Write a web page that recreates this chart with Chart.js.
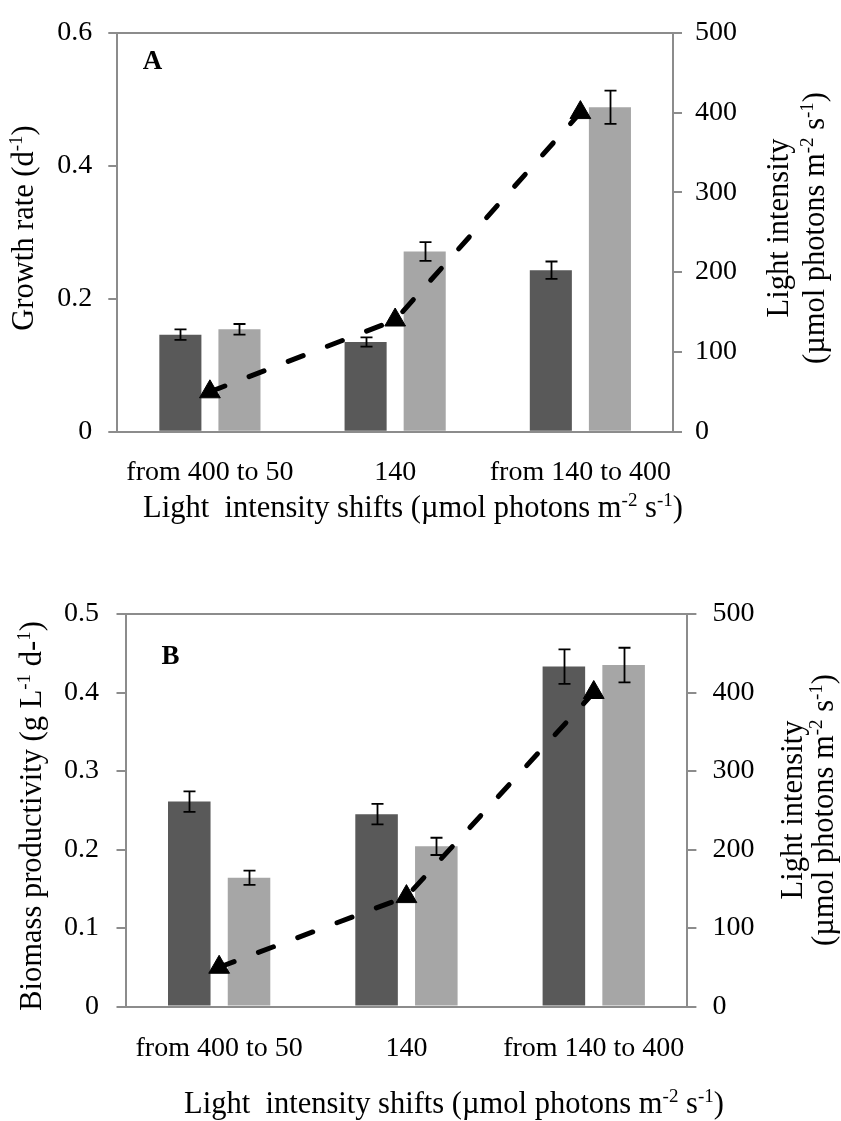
<!DOCTYPE html>
<html><head><meta charset="utf-8">
<script src="https://cdn.jsdelivr.net/npm/chart.js@4.4.1/dist/chart.umd.min.js"></script>
<style>
html,body{margin:0;padding:0;background:#fff;}
#wrap{position:relative;width:841px;height:1121px;overflow:hidden;}
canvas{position:absolute;left:0;}
#cA{top:0}
#cB{top:560px}
</style></head><body>
<div id="wrap"><canvas id="cA" width="841" height="560"></canvas><canvas id="cB" width="841" height="561"></canvas></div>
<script>
// ---- data ----
const categories = ['from 400 to 50', '140', 'from 140 to 400'];
const growthDark = [0.146, 0.135, 0.243];
const growthDarkErr = [0.008, 0.007, 0.013];
const growthLight = [0.154, 0.271, 0.488];
const growthLightErr = [0.008, 0.014, 0.025];
const prodDark = [0.261, 0.245, 0.433];
const prodDarkErr = [0.013, 0.013, 0.022];
const prodLight = [0.164, 0.204, 0.435];
const prodLightErr = [0.009, 0.011, 0.022];
const lightIntensity = [50, 140, 400];
const growthTicks = [0, 0.2, 0.4, 0.6];
const prodTicks = [0, 0.1, 0.2, 0.3, 0.4, 0.5];
const lightTicks = [0, 100, 200, 300, 400, 500];

// ---- styling ----
const FONT = "'Liberation Serif', 'Times New Roman', serif";
const axisGray = '#8c8c8c';
const darkGray = '#595959';
const lightGray = '#a6a6a6';

const errorBarPlugin = {
  id: 'errbars',
  afterDatasetDraw(chart, args) {
    const ds = chart.data.datasets[args.index];
    if (!ds.errors) return;
    const meta = args.meta;
    const y = chart.scales[meta.yAxisID];
    const ctx = chart.ctx;
    ctx.save();
    ctx.strokeStyle = '#000';
    ctx.lineWidth = 1.8;
    meta.data.forEach((el, i) => {
      const v = ds.data[i], e = ds.errors[i];
      const x = Math.round(el.x) + 0.5;
      const t = y.getPixelForValue(v + e), b = y.getPixelForValue(v - e);
      ctx.beginPath();
      ctx.moveTo(x, t); ctx.lineTo(x, b);
      ctx.moveTo(x - 6, t); ctx.lineTo(x + 6, t);
      ctx.moveTo(x - 6, b); ctx.lineTo(x + 6, b);
      ctx.stroke();
    });
    ctx.restore();
  }
};

function drawRich(ctx, segs, size, x, y, rot) {
  const base = size + 'px ' + FONT;
  const supSize = Math.round(size * 0.62);
  const sup = supSize + 'px ' + FONT;
  let w = 0;
  const ws = segs.map(s => { ctx.font = s.sup ? sup : base; const m = ctx.measureText(s.t).width; w += m; return m; });
  ctx.save();
  ctx.translate(x, y);
  if (rot) ctx.rotate(rot);
  ctx.textBaseline = 'alphabetic';
  ctx.textAlign = 'left';
  ctx.fillStyle = '#000';
  const bl = size * 0.34;
  let cx = -w / 2;
  segs.forEach((s, i) => {
    ctx.font = s.sup ? sup : base;
    ctx.fillText(s.t, cx, s.sup ? bl - size * 0.36 : bl);
    cx += ws[i];
  });
  ctx.restore();
}

const textPlugin = {
  id: 'texts',
  afterDraw(chart, args, opts) {
    const ctx = chart.ctx;
    (opts.items || []).forEach(it => {
      if (it.bold) {
        ctx.save();
        ctx.font = 'bold ' + it.size + 'px ' + FONT;
        ctx.fillStyle = '#000';
        ctx.textAlign = 'center';
        ctx.textBaseline = 'middle';
        ctx.fillText(it.segs[0].t, it.x, it.y);
        ctx.restore();
      } else {
        drawRich(ctx, it.segs, it.size, it.x, it.y, it.rot || 0);
      }
    });
  }
};

function makeChart(id, cfg) {
  const tickFont = { family: FONT, size: 28 };
  return new Chart(document.getElementById(id), {
    type: 'bar',
    data: {
      labels: categories,
      datasets: [
        { type: 'line', data: lightIntensity, yAxisID: 'yR', borderColor: '#000', borderWidth: 5,
          borderDash: [16, 26], borderCapStyle: 'round', pointStyle: 'triangle', pointRadius: 12,
          pointBackgroundColor: '#000', pointBorderColor: '#000', pointBorderWidth: 1, tension: 0,
          fill: false, order: 0 },
        { data: cfg.dark, errors: cfg.darkErr, yAxisID: 'yL', backgroundColor: darkGray,
          barPercentage: 0.712, categoryPercentage: 0.638, order: 1 },
        { data: cfg.light, errors: cfg.lightErr, yAxisID: 'yL', backgroundColor: lightGray,
          barPercentage: 0.712, categoryPercentage: 0.638, order: 2 }
      ]
    },
    options: {
      responsive: false,
      maintainAspectRatio: false,
      animation: false,
      layout: { padding: { top: cfg.top, left: 0, right: 0, bottom: 0 } },
      plugins: { legend: { display: false }, tooltip: { enabled: false }, texts: { items: cfg.texts } },
      scales: {
        x: {
          grid: { display: false, drawTicks: false },
          border: { display: true, color: axisGray, width: 2 },
          ticks: { font: tickFont, color: '#000', padding: cfg.xPad, maxRotation: 0, autoSkip: false },
          afterFit: s => { s.height = cfg.xHeight; }
        },
        yL: {
          position: 'left', min: 0, max: cfg.leftTicks[cfg.leftTicks.length - 1],
          afterBuildTicks: s => { s.ticks = cfg.leftTicks.map(v => ({ value: v })); },
          ticks: { font: tickFont, color: '#000', padding: cfg.lPad, callback: v => String(v) },
          grid: { drawOnChartArea: true, lineWidth: 2, tickLength: 9, tickColor: axisGray,
            color: c => (c.tick && Math.abs(c.tick.value - cfg.leftTicks[cfg.leftTicks.length - 1]) < 1e-9) ? axisGray : 'rgba(0,0,0,0)' },
          border: { display: true, color: axisGray, width: 2 },
          afterFit: s => { s.width = cfg.leftW; }
        },
        yR: {
          position: 'right', min: 0, max: 500,
          afterBuildTicks: s => { s.ticks = lightTicks.map(v => ({ value: v })); },
          ticks: { font: tickFont, color: '#000', padding: cfg.rPad, callback: v => String(v) },
          grid: { drawOnChartArea: false, lineWidth: 2, tickLength: 9, color: axisGray, tickColor: axisGray },
          border: { display: true, color: axisGray, width: 2 },
          afterFit: s => { s.width = cfg.rightW; }
        }
      }
    },
    plugins: [errorBarPlugin, textPlugin]
  });
}

const xTitleSegs = [{ t: 'Light  intensity shifts (\u00b5mol photons m' }, { t: '-2', sup: true }, { t: ' s' }, { t: '-1', sup: true }, { t: ')' }];
const rTitle2Segs = [{ t: '(\u00b5mol photons m' }, { t: '-2', sup: true }, { t: ' s' }, { t: '-1', sup: true }, { t: ')' }];

makeChart('cA', {
  dark: growthDark, darkErr: growthDarkErr, light: growthLight, lightErr: growthLightErr,
  leftTicks: growthTicks, top: 24.6, leftW: 117.3, rightW: 168, xHeight: 128.3,
  xPad: 24, lPad: 16, rPad: 13,
  texts: [
    { bold: true, size: 27, segs: [{ t: 'A' }], x: 152.5, y: 62 },
    { size: 30.5, segs: xTitleSegs, x: 413, y: 507 },
    { size: 30.5, segs: [{ t: 'Growth rate (d' }, { t: '-1', sup: true }, { t: ')' }], x: 23, y: 228, rot: -Math.PI / 2 },
    { size: 30.5, segs: [{ t: 'Light intensity' }], x: 778, y: 228, rot: -Math.PI / 2 },
    { size: 30.5, segs: rTitle2Segs, x: 814, y: 228, rot: -Math.PI / 2 }
  ]
});

makeChart('cB', {
  dark: prodDark, darkErr: prodDarkErr, light: prodLight, lightErr: prodLightErr,
  leftTicks: prodTicks, top: 54, leftW: 125.5, rightW: 153.6, xHeight: 114.5,
  xPad: 25.5, lPad: 17.5, rPad: 16,
  texts: [
    { bold: true, size: 27, segs: [{ t: 'B' }], x: 170.5, y: 97.5 },
    { size: 30.5, segs: xTitleSegs, x: 454, y: 543 },
    { size: 30.5, segs: [{ t: 'Biomass productivity (g L' }, { t: '-1', sup: true }, { t: ' d-' }, { t: '1', sup: true }, { t: ')' }], x: 31, y: 256, rot: -Math.PI / 2 },
    { size: 30.5, segs: [{ t: 'Light intensity' }], x: 792, y: 250, rot: -Math.PI / 2 },
    { size: 30.5, segs: rTitle2Segs, x: 823, y: 250, rot: -Math.PI / 2 }
  ]
});
</script>
</body></html>
